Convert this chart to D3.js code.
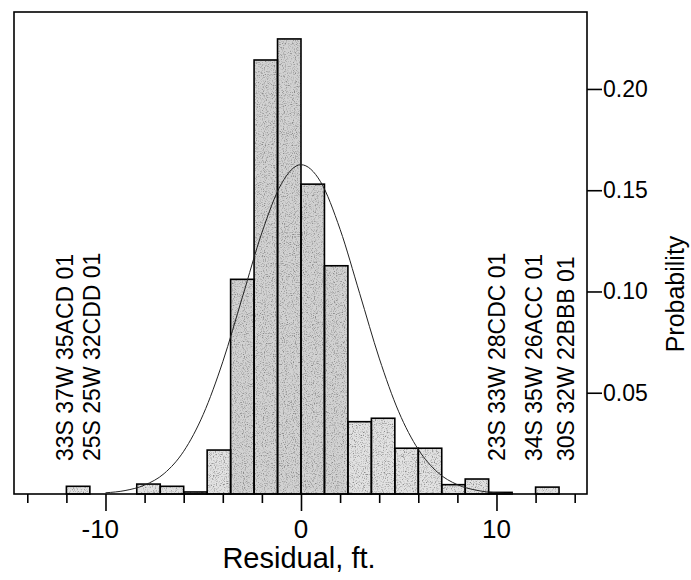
<!DOCTYPE html>
<html>
<head>
<meta charset="utf-8">
<script src="https://d3js.org/d3.v7.min.js"></script>
<style>
  body { margin: 0; background: #fff; }
  text { font-family: "Liberation Sans", Arial, Helvetica, sans-serif; fill: #000; }
</style>
</head>
<body>
<div id="chart"></div>
<script>
// histogram bins (left edge, ft) and probability per bin
var binStarts = [-12.0, -10.8, -9.6, -8.4, -7.2, -6.0, -4.8, -3.6, -2.4, -1.2, 0.0, 1.2, 2.4, 3.6, 4.8, 6.0, 7.2, 8.4, 9.6, 10.8, 12.0];
var binProbs  = [0.0038, 0, 0, 0.0049, 0.0038, 0.0010, 0.0217, 0.1060, 0.2143, 0.2247, 0.1530, 0.1127, 0.0357, 0.0374, 0.0226, 0.0226, 0.0046, 0.0074, 0.0008, 0, 0.0034];
var binWidth = 1.2;

// fitted normal curve
var curveX = [-10, -9, -8, -7, -6, -5, -4, -3, -2, -1, 0, 1, 2, 3, 4, 5, 6, 7, 8, 9, 10, 10.8];
var curveY = [0.0006, 0.0017, 0.0044, 0.0101, 0.0211, 0.0393, 0.0653, 0.0971, 0.1290, 0.1532, 0.1626, 0.1542, 0.1307, 0.0991, 0.0671, 0.0406, 0.0220, 0.0106, 0.0046, 0.0018, 0.0006, 0.0002];

// axis ticks
var xTicks = [-14, -12, -10, -8, -6, -4, -2, 0, 2, 4, 6, 8, 10, 12, 14];
var xLabelTicks = [-10, 0, 10];
var yTicks = [0.05, 0.10, 0.15, 0.20];

// well labels for the outliers
var leftLabels = ["33S 37W 35ACD 01", "25S 25W 32CDD 01"];
var leftLabelX = [-11.66, -10.28];
var rightLabels = ["23S 33W 28CDC 01", "34S 35W 26ACC 01", "30S 32W 22BBB 01"];
var rightLabelX = [10.43, 12.33, 13.96];

var width = 691,
    height = 580;

var plotLeft = 14, plotRight = 587, plotTop = 12, plotBottom = 494;

var svg = d3.select("#chart").append("svg")
    .attr("width", width)
    .attr("height", height);

var x = d3.scaleLinear().domain([-14.68, 14.63]).range([plotLeft, plotRight]);
var y = d3.scaleLinear().domain([0, 0.238]).range([plotBottom, plotTop]);

// speckled texture for the bars
var defs = svg.append("defs");
var filter = defs.append("filter").attr("id", "grain")
    .attr("x", 0).attr("y", 0).attr("width", "100%").attr("height", "100%");
filter.append("feTurbulence")
    .attr("type", "fractalNoise")
    .attr("baseFrequency", 0.9)
    .attr("numOctaves", 2)
    .attr("seed", 7)
    .attr("result", "noise");
filter.append("feColorMatrix")
    .attr("in", "noise")
    .attr("type", "matrix")
    .attr("values", "0 0 0 0 0.25  0 0 0 0 0.25  0 0 0 0 0.25  0 0 0 -3 1.55")
    .attr("result", "dots");
filter.append("feComposite")
    .attr("in", "dots").attr("in2", "SourceAlpha")
    .attr("operator", "in").attr("result", "clipped");
var merge = filter.append("feMerge");
merge.append("feMergeNode").attr("in", "SourceGraphic");
merge.append("feMergeNode").attr("in", "clipped");

var bins = binStarts.map(function(d, i) { return { x0: d, x1: d + binWidth, p: binProbs[i] }; })
    .filter(function(d) { return d.p > 0; });

// bar fills
svg.append("g")
    .attr("filter", "url(#grain)")
    .selectAll("rect")
    .data(bins)
    .enter().append("rect")
    .attr("x", function(d) { return x(d.x0); })
    .attr("y", function(d) { return y(d.p); })
    .attr("width", function(d) { return x(d.x1) - x(d.x0); })
    .attr("height", function(d) { return y(0) - y(d.p); })
    .attr("fill", function(d) { return d.p > 0.1 ? "#d2d2d2" : "#e2e2e2"; });

// bar outlines
svg.append("g")
    .selectAll("rect")
    .data(bins)
    .enter().append("rect")
    .attr("x", function(d) { return x(d.x0); })
    .attr("y", function(d) { return y(d.p); })
    .attr("width", function(d) { return x(d.x1) - x(d.x0); })
    .attr("height", function(d) { return y(0) - y(d.p); })
    .attr("fill", "none")
    .attr("stroke", "#000")
    .attr("stroke-width", 1.6);

// normal curve
var line = d3.line()
    .x(function(d) { return x(d[0]); })
    .y(function(d) { return y(d[1]); })
    .curve(d3.curveMonotoneX);

svg.append("path")
    .datum(curveX.map(function(d, i) { return [d, curveY[i]]; }))
    .attr("fill", "none")
    .attr("stroke", "#222")
    .attr("stroke-width", 1)
    .attr("d", line);

// frame
svg.append("rect")
    .attr("x", plotLeft)
    .attr("y", plotTop)
    .attr("width", plotRight - plotLeft)
    .attr("height", plotBottom - plotTop)
    .attr("fill", "none")
    .attr("stroke", "#000")
    .attr("stroke-width", 1.6);

// x axis, long ticks on labelled values
var xAxis = svg.append("g")
    .attr("transform", "translate(0," + plotBottom + ")")
    .call(d3.axisBottom(x).tickValues(xTicks).tickSizeOuter(0).tickFormat(""));
xAxis.select(".domain").remove();
xAxis.selectAll(".tick line")
    .attr("stroke-width", 1.6)
    .attr("y2", function(d) { return xLabelTicks.indexOf(d) >= 0 ? 17 : 9; });

svg.append("g")
    .selectAll("text")
    .data(xLabelTicks)
    .enter().append("text")
    .attr("x", function(d) { return x(d); })
    .attr("y", 538)
    .attr("dx", function(d) { return d < 0 ? "-0.2em" : 0; })
    .attr("text-anchor", "middle")
    .style("font-size", "26px")
    .text(function(d) { return d; });

svg.append("text")
    .attr("x", 299)
    .attr("y", 568)
    .attr("text-anchor", "middle")
    .style("font-size", "29px")
    .text("Residual, ft.");

// y axis on the right
var yAxis = svg.append("g")
    .attr("transform", "translate(" + plotRight + ",0)")
    .call(d3.axisRight(y).tickValues(yTicks).tickSize(15).tickPadding(1).tickFormat(d3.format(".2f")));
yAxis.select(".domain").remove();
yAxis.selectAll(".tick line").attr("stroke-width", 1.6);
yAxis.selectAll(".tick text")
    .style("font-size", "23px")
    .style("font-family", "'Liberation Sans', Arial, sans-serif");

svg.append("text")
    .attr("transform", "translate(684,294) rotate(-90)")
    .attr("text-anchor", "middle")
    .style("font-size", "25px")
    .text("Probability");

// outlier well labels
svg.append("g")
    .selectAll("text")
    .data(leftLabels)
    .enter().append("text")
    .attr("transform", function(d, i) { return "translate(" + x(leftLabelX[i]) + ",461) rotate(-90)"; })
    .style("font-size", "23px")
    .text(String);

svg.append("g")
    .selectAll("text")
    .data(rightLabels)
    .enter().append("text")
    .attr("transform", function(d, i) { return "translate(" + x(rightLabelX[i]) + ",461) rotate(-90)"; })
    .style("font-size", "23px")
    .text(String);
</script>
</body>
</html>
